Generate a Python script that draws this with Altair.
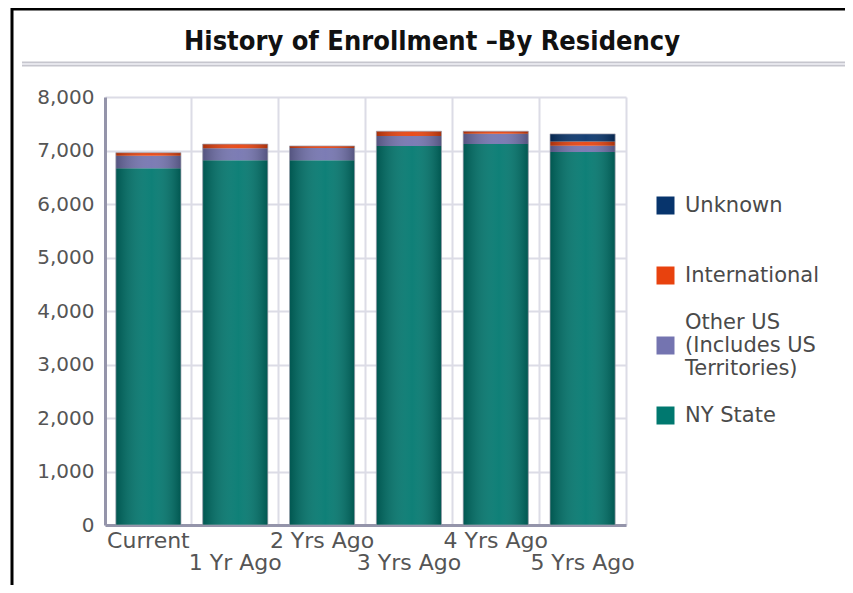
import altair as alt
import pandas as pd

# ---- data ----
categories = ["Current", "1 Yr Ago", "2 Yrs Ago", "3 Yrs Ago", "4 Yrs Ago", "5 Yrs Ago"]
ny_state = [6670, 6820, 6820, 7085, 7120, 6970]
other_us = [230, 220, 225, 185, 195, 120]
international = [60, 80, 40, 90, 45, 80]
unknown = [0, 0, 0, 0, 0, 140]
series_names = ["NY State", "Other US (Includes US Territories)", "International", "Unknown"]
legend_order = ["Unknown", "International", "Other US (Includes US Territories)", "NY State"]
legend_colors = ["#07346c", "#e8420e", "#7474b0", "#00786f"]
y_ticks = list(range(0, 8001, 500))
second_row_labels = ["1 Yr Ago", "3 Yrs Ago", "5 Yrs Ago"]
title_text = "History of Enrollment \u2013By Residency"

series_values = [ny_state, other_us, international, unknown]
rows = []
for i, c in enumerate(categories):
    for k, name in enumerate(series_names):
        rows.append({"category": c, "series": name, "order": k, "value": series_values[k][i]})
df = pd.DataFrame(rows)

W, H = 521, 428
FONT = "DejaVu Sans"

step = W / (len(categories) - 0.25 + 2 * 0.125)
bw = step * 0.75
grid_pos = (bw + 0.25 * step / 2) / bw

x_scale = alt.Scale(domain=categories, paddingInner=0.25, paddingOuter=0.125)
y_scale = alt.Scale(domain=[0, 8000], nice=False, zero=True)

second_list = "[" + ",".join("'" + s + "'" for s in second_row_labels) + "]"

x_enc = alt.X(
    "category:N", scale=x_scale, sort=categories,
    axis=alt.Axis(
        title=None, labelAngle=0, grid=True, ticks=False,
        bandPosition=grid_pos,
        gridColor="#dcdce6", gridWidth=2,
        domain=True, domainColor="#9494aa", domainWidth=3,
        labelFont=FONT, labelFontSize=22, labelColor="#555555",
        labelPadding=5, labelLineHeight=22, labelOverlap=False,
        labelExpr="indexof(" + second_list + ", datum.label) >= 0 ? ['', datum.label] : datum.label",
    ),
)
y_axis = alt.Axis(
    title=None, values=y_ticks, grid=True, ticks=False,
    gridColor="#dcdce6", gridWidth=2,
    domain=True, domainColor="#9494aa", domainWidth=3,
    labelFont=FONT, labelFontSize=20, labelColor="#555555",
    labelPadding=11, labelOverlap=False,
    labelExpr="datum.value % 1000 == 0 ? format(datum.value, ',') : ''",
)

LH = 23  # legend label line height (font size + 2)
shift = LH / 9.0
symbol_path = "M-1,{a:.3f}H1V{b:.3f}H-1Z".format(a=shift - 1, b=shift + 1)

bars = alt.Chart(df).mark_bar().encode(
    x=x_enc,
    y=alt.Y("value:Q", stack="zero", scale=y_scale, axis=y_axis),
    color=alt.Color(
        "series:N",
        scale=alt.Scale(domain=legend_order, range=legend_colors),
        legend=alt.Legend(
            title=None, orient="none", legendX=550, legendY=75,
            symbolType=symbol_path, symbolSize=324, symbolStrokeWidth=0,
            labelFont=FONT, labelFontSize=21, labelColor="#4a4a4a",
            labelOffset=9, labelLimit=300, gridAlign="all", rowPadding=2,
            labelExpr="datum.label == 'Other US (Includes US Territories)' ? ['Other US', '(Includes US', 'Territories)'] : ['', datum.label]",
        ),
    ),
    order=alt.Order("order:Q"),
)

shade = alt.LinearGradient(
    gradient="linear", x1=0, x2=1, y1=0, y2=0,
    stops=[
        alt.GradientStop(offset=0, color="rgba(0,0,0,0.28)"),
        alt.GradientStop(offset=0.55, color="rgba(255,255,255,0.06)"),
        alt.GradientStop(offset=1, color="rgba(0,0,0,0.28)"),
    ],
)
overlay = alt.Chart(df).mark_bar(fill=shade, stroke="#a0a0ae", strokeWidth=1, strokeOpacity=0.7).encode(
    x=alt.X("category:N", scale=x_scale, sort=categories),
    y=alt.Y("sum(value):Q", scale=y_scale),
)

one = pd.DataFrame({"k": [0]})
border_left = alt.Chart(one).mark_rule(color="#000000", strokeWidth=3).encode(
    x=alt.value(-93), y=alt.value(-89), y2=alt.value(H + 80))
border_top = alt.Chart(one).mark_rule(color="#000000", strokeWidth=3).encode(
    x=alt.value(-93), x2=alt.value(W + 240), y=alt.value(-88))
sep_dark = alt.Chart(one).mark_rule(color="#c6c6ce", strokeWidth=5).encode(
    x=alt.value(-83), x2=alt.value(740), y=alt.value(-33))
sep_light = alt.Chart(one).mark_rule(color="#e6e6ec", strokeWidth=2).encode(
    x=alt.value(-83), x2=alt.value(740), y=alt.value(-33))
title = alt.Chart(one).mark_text(
    text=title_text, font="Liberation Sans Narrow, DejaVu Sans Condensed, Liberation Sans",
    fontWeight="bold", fontSize=27, color="#111111", align="center", baseline="alphabetic",
).encode(x=alt.value(327), y=alt.value(-47))

chart = alt.layer(bars, overlay, border_left, border_top, sep_dark, sep_light, title).properties(
    width=W, height=H,
    autosize=alt.AutoSizeParams(type="none"),
    padding={"left": 97, "top": 89, "right": 219, "bottom": 60},
).configure_view(stroke=None)

chart.save("out.html", embed_options={"renderer": "svg", "actions": False})
